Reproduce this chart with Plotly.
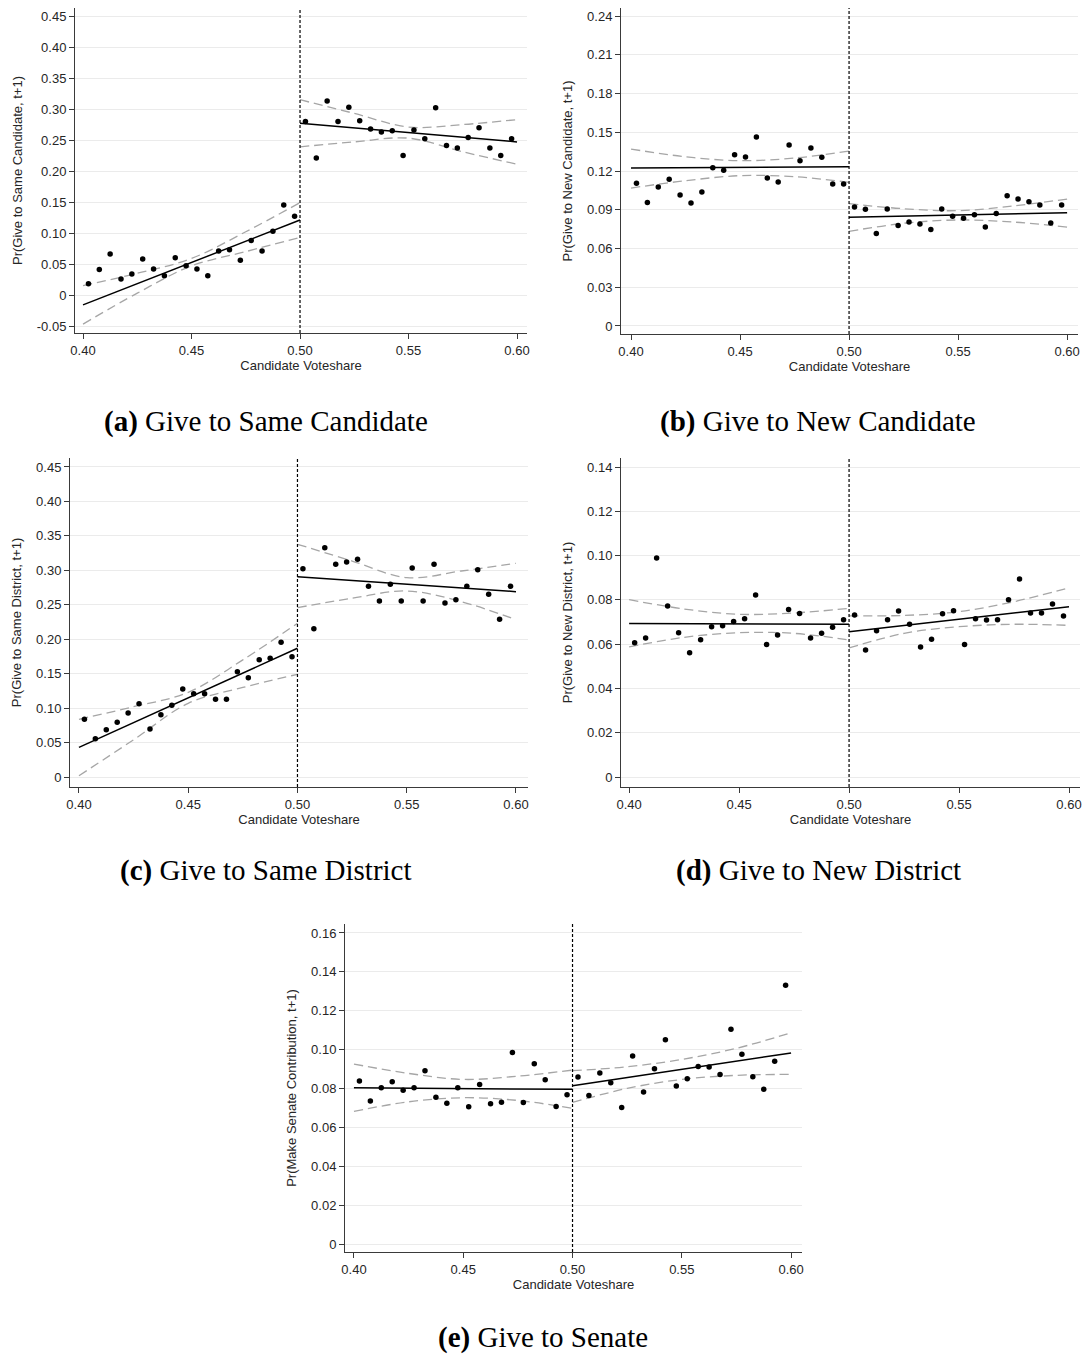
import plotly.graph_objects as go

W, H = 1086, 1355

# ---------------- data ----------------
BIN_X_LEFT = [0.4025, 0.4075, 0.4125, 0.4175, 0.4225, 0.4275, 0.4325, 0.4375, 0.4425, 0.4475,
              0.4525, 0.4575, 0.4625, 0.4675, 0.4725, 0.4775, 0.4825, 0.4875, 0.4925, 0.4975]
BIN_X_RIGHT = [0.5025, 0.5075, 0.5125, 0.5175, 0.5225, 0.5275, 0.5325, 0.5375, 0.5425, 0.5475,
               0.5525, 0.5575, 0.5625, 0.5675, 0.5725, 0.5775, 0.5825, 0.5875, 0.5925, 0.5975]
FIT_X_LEFT = [0.40, 0.50]
FIT_X_RIGHT = [0.50, 0.60]
CI_X_LEFT = [0.40, 0.425, 0.45, 0.475, 0.50]
CI_X_RIGHT = [0.50, 0.525, 0.55, 0.575, 0.60]

X_TICKS = [0.40, 0.45, 0.50, 0.55, 0.60]
X_TICK_TEXT = ["0.40", "0.45", "0.50", "0.55", "0.60"]

# (a) Give to Same Candidate
A_PTS_L = [0.018, 0.041, 0.066, 0.026, 0.034, 0.058, 0.042, 0.031, 0.060, 0.047,
           0.042, 0.031, 0.071, 0.073, 0.056, 0.088, 0.071, 0.103, 0.145, 0.127]
A_PTS_R = [0.280, 0.221, 0.313, 0.280, 0.303, 0.281, 0.268, 0.263, 0.265, 0.225,
           0.266, 0.252, 0.302, 0.241, 0.237, 0.254, 0.270, 0.237, 0.225, 0.252]
A_FIT_L = [-0.016, 0.121]
A_FIT_R = [0.277, 0.247]
A_UP_L = [0.015, 0.035, 0.059, 0.102, 0.149]
A_LO_L = [-0.047, 0.003, 0.047, 0.070, 0.093]
A_UP_R = [0.315, 0.293, 0.271, 0.275, 0.283]
A_LO_R = [0.239, 0.247, 0.253, 0.231, 0.211]
A_Y_TICKS = [-0.05, 0, 0.05, 0.10, 0.15, 0.20, 0.25, 0.30, 0.35, 0.40, 0.45]
A_Y_TEXT = ["-0.05", "0", "0.05", "0.10", "0.15", "0.20", "0.25", "0.30", "0.35", "0.40", "0.45"]

# (b) Give to New Candidate
B_PTS_L = [0.1105, 0.0957, 0.1076, 0.1136, 0.1014, 0.0952, 0.1037, 0.1226, 0.1205, 0.1326,
           0.1308, 0.1463, 0.1146, 0.1115, 0.1401, 0.1280, 0.1378, 0.1306, 0.1099, 0.1099]
B_PTS_R = [0.0921, 0.0903, 0.0717, 0.0906, 0.0779, 0.0805, 0.0790, 0.0748, 0.0906, 0.0849,
           0.0834, 0.0862, 0.0766, 0.0870, 0.1009, 0.0983, 0.0962, 0.0937, 0.0797, 0.0937]
B_FIT_L = [0.1223, 0.1233]
B_FIT_R = [0.0841, 0.0877]
B_UP_L = [0.1370, 0.1310, 0.1280, 0.1300, 0.1355]
B_LO_L = [0.1068, 0.1125, 0.1164, 0.1156, 0.1112]
B_UP_R = [0.0947, 0.0908, 0.0893, 0.0929, 0.0983]
B_LO_R = [0.0733, 0.0795, 0.0821, 0.0805, 0.0766]
B_Y_TICKS = [0, 0.03, 0.06, 0.09, 0.12, 0.15, 0.18, 0.21, 0.24]
B_Y_TEXT = ["0", "0.03", "0.06", "0.09", "0.12", "0.15", "0.18", "0.21", "0.24"]

# (c) Give to Same District
C_PTS_L = [0.0838, 0.0556, 0.0687, 0.0794, 0.0929, 0.1064, 0.0697, 0.0905, 0.1040, 0.1277,
           0.1210, 0.1210, 0.1127, 0.1127, 0.1529, 0.1442, 0.1703, 0.1722, 0.1955, 0.1747]
C_PTS_R = [0.3024, 0.2153, 0.3329, 0.3087, 0.3121, 0.3160, 0.2768, 0.2555, 0.2797, 0.2555,
           0.3034, 0.2555, 0.3087, 0.2526, 0.2574, 0.2768, 0.3009, 0.2652, 0.2289, 0.2768]
C_FIT_L = [0.0431, 0.1868]
C_FIT_R = [0.2908, 0.2690]
C_UP_L = [0.0838, 0.1020, 0.1229, 0.1700, 0.2231]
C_LO_L = [0.0019, 0.0540, 0.1070, 0.1300, 0.1491]
C_UP_R = [0.3378, 0.3135, 0.2894, 0.2990, 0.3102]
C_LO_R = [0.2458, 0.2594, 0.2700, 0.2545, 0.2284]
C_Y_TICKS = [0, 0.05, 0.10, 0.15, 0.20, 0.25, 0.30, 0.35, 0.40, 0.45]
C_Y_TEXT = ["0", "0.05", "0.10", "0.15", "0.20", "0.25", "0.30", "0.35", "0.40", "0.45"]

# (d) Give to New District
D_PTS_L = [0.0607, 0.0628, 0.0989, 0.0772, 0.0652, 0.0561, 0.0620, 0.0679, 0.0683, 0.0703,
           0.0715, 0.0822, 0.0599, 0.0641, 0.0757, 0.0739, 0.0628, 0.0649, 0.0677, 0.0710]
D_PTS_R = [0.0732, 0.0574, 0.0661, 0.0710, 0.0750, 0.0690, 0.0587, 0.0622, 0.0738, 0.0751,
           0.0599, 0.0715, 0.0709, 0.0710, 0.0801, 0.0894, 0.0741, 0.0741, 0.0781, 0.0727]
D_FIT_L = [0.0694, 0.0690]
D_FIT_R = [0.0656, 0.0769]
D_UP_L = [0.0801, 0.0759, 0.0735, 0.0741, 0.0762]
D_LO_L = [0.0588, 0.0631, 0.0652, 0.0649, 0.0619]
D_UP_R = [0.0728, 0.0730, 0.0747, 0.0792, 0.0855]
D_LO_R = [0.0583, 0.0649, 0.0679, 0.0690, 0.0685]
D_Y_TICKS = [0, 0.02, 0.04, 0.06, 0.08, 0.10, 0.12, 0.14]
D_Y_TEXT = ["0", "0.02", "0.04", "0.06", "0.08", "0.10", "0.12", "0.14"]

# (e) Give to Senate
E_PTS_L = [0.0839, 0.0736, 0.0804, 0.0835, 0.0791, 0.0804, 0.0892, 0.0755, 0.0725, 0.0804,
           0.0706, 0.0821, 0.0722, 0.0730, 0.0986, 0.0729, 0.0928, 0.0845, 0.0708, 0.0768]
E_PTS_R = [0.0859, 0.0765, 0.0880, 0.0830, 0.0703, 0.0967, 0.0782, 0.0902, 0.1051, 0.0813,
           0.0850, 0.0914, 0.0911, 0.0873, 0.1105, 0.0977, 0.0861, 0.0797, 0.0940, 0.1331]
E_FIT_L = [0.0804, 0.0796]
E_FIT_R = [0.0815, 0.0983]
E_UP_L = [0.0926, 0.0878, 0.0847, 0.0864, 0.0895]
E_LO_L = [0.0683, 0.0732, 0.0753, 0.0739, 0.0698]
E_UP_R = [0.0892, 0.0912, 0.0950, 0.1007, 0.1087]
E_LO_R = [0.0729, 0.0801, 0.0847, 0.0868, 0.0873]
E_Y_TICKS = [0, 0.02, 0.04, 0.06, 0.08, 0.10, 0.12, 0.14, 0.16]
E_Y_TEXT = ["0", "0.02", "0.04", "0.06", "0.08", "0.10", "0.12", "0.14", "0.16"]

Y_TITLES = ["Pr(Give to Same Candidate, t+1)", "Pr(Give to New Candidate, t+1)",
            "Pr(Give to Same District, t+1)", "Pr(Give to New District, t+1)",
            "Pr(Make Senate Contribution, t+1)"]
CAPTIONS = ["<b>(a)</b> Give to Same Candidate", "<b>(b)</b> Give to New Candidate",
            "<b>(c)</b> Give to Same District", "<b>(d)</b> Give to New District",
            "<b>(e)</b> Give to Senate"]
X_TITLE = "Candidate Voteshare"

# ---------------- layout geometry (pixels) ----------------
# plot boxes: left, right, top, bottom (px); axis ranges
BOXES = [
    (75, 527, 8, 333, [0.3963, 0.6046], [-0.0613, 0.463]),
    (621, 1078, 8, 334, [0.3954, 0.6050], [-0.0062, 0.2462]),
    (70, 528, 458, 787, [0.3959, 0.6055], [-0.0145, 0.463]),
    (621, 1080, 458, 787, [0.3963, 0.6050], [-0.0045, 0.1441]),
    (345, 802, 924, 1252, [0.3959, 0.6050], [-0.0040, 0.1646]),
]
CAPTION_POS = [(266, 421), (818, 421), (266, 871), (818, 871), (543, 1337)]

PANELS = [
    (A_PTS_L, A_PTS_R, A_FIT_L, A_FIT_R, A_UP_L, A_LO_L, A_UP_R, A_LO_R, A_Y_TICKS, A_Y_TEXT),
    (B_PTS_L, B_PTS_R, B_FIT_L, B_FIT_R, B_UP_L, B_LO_L, B_UP_R, B_LO_R, B_Y_TICKS, B_Y_TEXT),
    (C_PTS_L, C_PTS_R, C_FIT_L, C_FIT_R, C_UP_L, C_LO_L, C_UP_R, C_LO_R, C_Y_TICKS, C_Y_TEXT),
    (D_PTS_L, D_PTS_R, D_FIT_L, D_FIT_R, D_UP_L, D_LO_L, D_UP_R, D_LO_R, D_Y_TICKS, D_Y_TEXT),
    (E_PTS_L, E_PTS_R, E_FIT_L, E_FIT_R, E_UP_L, E_LO_L, E_UP_R, E_LO_R, E_Y_TICKS, E_Y_TEXT),
]

SANS = "Liberation Sans, Arial, Helvetica, sans-serif"
SERIF = "Liberation Serif, Times New Roman, serif"
TXT = "#262626"
AXC = "#3a3a3a"
GRID = "#ebebeb"
CI_COLOR = "#a6a6a6"

fig = go.Figure()
layout = dict(
    width=W, height=H, margin=dict(l=0, r=0, t=0, b=0, autoexpand=False),
    paper_bgcolor="white", plot_bgcolor="white", showlegend=False,
    font=dict(family=SANS, size=13, color=TXT),
)
shapes = []
annotations = []

for i, (panel, box) in enumerate(zip(PANELS, BOXES)):
    pl, pr, fl, fr, ul, ll, ur, lr, yt, ytt = panel
    left, right, top, bottom, xr, yr = box
    n = "" if i == 0 else str(i + 1)
    xa, ya = "x" + n, "y" + n

    for cx, up in ((CI_X_LEFT, ul), (CI_X_RIGHT, ur)):
        fig.add_trace(go.Scatter(x=cx, y=up, mode="lines", xaxis=xa, yaxis=ya,
                                 line=dict(color=CI_COLOR, width=1.3, dash="9px,5px", shape="spline", smoothing=1.0),
                                 hoverinfo="skip"))
    for cx, lo in ((CI_X_LEFT, ll), (CI_X_RIGHT, lr)):
        fig.add_trace(go.Scatter(x=cx, y=lo, mode="lines", xaxis=xa, yaxis=ya,
                                 line=dict(color=CI_COLOR, width=1.3, dash="9px,5px", shape="spline", smoothing=1.0),
                                 hoverinfo="skip"))
    fig.add_trace(go.Scatter(x=FIT_X_LEFT, y=fl, mode="lines", xaxis=xa, yaxis=ya,
                             line=dict(color="black", width=1.5)))
    fig.add_trace(go.Scatter(x=FIT_X_RIGHT, y=fr, mode="lines", xaxis=xa, yaxis=ya,
                             line=dict(color="black", width=1.5)))
    fig.add_trace(go.Scatter(x=BIN_X_LEFT + BIN_X_RIGHT, y=pl + pr, mode="markers",
                             xaxis=xa, yaxis=ya,
                             marker=dict(color="black", size=5.5, line=dict(width=0))))

    layout["xaxis" + n] = dict(
        domain=[left / W, right / W], anchor=ya, range=xr, automargin=False,
        tickvals=X_TICKS, ticktext=X_TICK_TEXT,
        showgrid=False, zeroline=False, showline=True, linecolor=AXC, linewidth=1,
        ticks="outside", ticklen=5, tickcolor=AXC, tickwidth=1,
        tickfont=dict(family=SANS, size=13, color=TXT),
        title=dict(text=X_TITLE, font=dict(family=SANS, size=13, color=TXT), standoff=3),
    )
    layout["yaxis" + n] = dict(
        domain=[1 - bottom / H, 1 - top / H], anchor=xa, range=yr, automargin=False,
        tickvals=yt, ticktext=ytt,
        showgrid=True, gridcolor=GRID, gridwidth=1, zeroline=False,
        showline=True, linecolor=AXC, linewidth=1,
        ticks="outside", ticklen=5, tickcolor=AXC, tickwidth=1,
        tickfont=dict(family=SANS, size=13, color=TXT),
        title=dict(text=Y_TITLES[i], font=dict(family=SANS, size=13, color=TXT), standoff=11),
    )
    shapes.append(dict(type="line", xref=xa, yref=ya + " domain", x0=0.5, x1=0.5, y0=0, y1=1,
                       line=dict(color="black", width=1.2, dash="3px,2px")))
    cx, cy = CAPTION_POS[i]
    annotations.append(dict(text=CAPTIONS[i], xref="paper", yref="paper",
                            x=cx / W, y=1 - cy / H, xanchor="center", yanchor="middle",
                            showarrow=False, font=dict(family=SERIF, size=29, color="black")))

layout["shapes"] = shapes
layout["annotations"] = annotations
fig.update_layout(**layout)
fig.write_html("out.html")
